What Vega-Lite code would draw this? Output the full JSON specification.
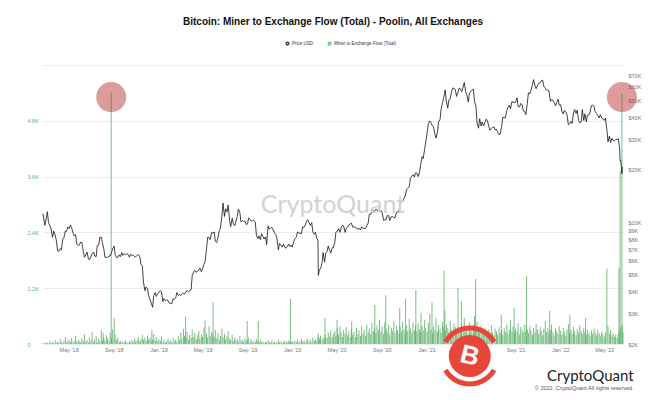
{
"$schema":"https://vega.github.io/schema/vega-lite/v6.json",
"width":580,"height":279,
"autosize":"none",
"padding":{"left":43,"top":65,"right":45,"bottom":56},
"background":"white",
"config":{"view":{"stroke":null},"font":"Liberation Sans"},
"title":{"text":"Bitcoin: Miner to Exchange Flow (Total) - Poolin, All Exchanges","fontSize":10,"fontWeight":"bold","color":"#111111","font":"Liberation Sans","anchor":"middle","frame":"group","offset":14},
"datasets":{"m":[
{"d":"2018-02-20","p":11200,"f":20},{"d":"2018-02-25","p":9600,"f":15},{"d":"2018-02-28","p":10350,"f":40},
{"d":"2018-03-04","p":11500,"f":25},{"d":"2018-03-07","p":9950,"f":10},{"d":"2018-03-11","p":9550,"f":60},{"d":"2018-03-14","p":9150,"f":20},{"d":"2018-03-18","p":8200,"f":35},{"d":"2018-03-21","p":8900,"f":15},{"d":"2018-03-25","p":8450,"f":80},{"d":"2018-03-28","p":7950,"f":30},
{"d":"2018-04-01","p":6850,"f":45},{"d":"2018-04-04","p":6800,"f":20},{"d":"2018-04-08","p":7050,"f":110},{"d":"2018-04-11","p":6950,"f":40},{"d":"2018-04-15","p":8000,"f":25},{"d":"2018-04-18","p":8150,"f":70},{"d":"2018-04-22","p":8900,"f":150},{"d":"2018-04-25","p":8850,"f":30},{"d":"2018-04-29","p":9400,"f":60},
{"d":"2018-05-02","p":9200,"f":95},{"d":"2018-05-06","p":9650,"f":40},{"d":"2018-05-09","p":9300,"f":130},{"d":"2018-05-13","p":8700,"f":35},{"d":"2018-05-16","p":8350,"f":70},{"d":"2018-05-20","p":8500,"f":180},{"d":"2018-05-23","p":7500,"f":45},{"d":"2018-05-27","p":7350,"f":90},{"d":"2018-05-30","p":7400,"f":55},
{"d":"2018-06-03","p":7700,"f":40},{"d":"2018-06-06","p":7650,"f":120},{"d":"2018-06-10","p":6800,"f":60},{"d":"2018-06-13","p":6300,"f":210},{"d":"2018-06-17","p":6500,"f":50},{"d":"2018-06-20","p":6750,"f":85},{"d":"2018-06-24","p":6150,"f":30},{"d":"2018-06-27","p":6100,"f":140},
{"d":"2018-07-01","p":6350,"f":70},{"d":"2018-07-04","p":6600,"f":260},{"d":"2018-07-08","p":6750,"f":45},{"d":"2018-07-11","p":6400,"f":95},{"d":"2018-07-15","p":6350,"f":170},{"d":"2018-07-18","p":7350,"f":40},{"d":"2018-07-22","p":7400,"f":110},{"d":"2018-07-25","p":8200,"f":60},{"d":"2018-07-29","p":8200,"f":300},
{"d":"2018-08-01","p":7600,"f":80},{"d":"2018-08-03","f":240},{"d":"2018-08-05","p":7000,"f":150},{"d":"2018-08-08","p":6300,"f":65},{"d":"2018-08-12","p":6300,"f":190},{"d":"2018-08-15","p":6250,"f":120},{"d":"2018-08-19","p":6400,"f":70},{"d":"2018-08-22","p":6400,"f":240},{"d":"2018-08-25","f":5420},{"d":"2018-08-26","p":6700,"f":130},{"d":"2018-08-29","p":7050,"f":320},
{"d":"2018-09-02","p":7300,"f":560},{"d":"2018-09-05","p":6500,"f":210},{"d":"2018-09-09","p":6250,"f":90},{"d":"2018-09-12","p":6300,"f":140},{"d":"2018-09-16","p":6500,"f":45},{"d":"2018-09-19","p":6350,"f":70},{"d":"2018-09-23","p":6700,"f":30},{"d":"2018-09-26","p":6450,"f":55},{"d":"2018-09-30","p":6600,"f":25},
{"d":"2018-10-03","p":6500,"f":80},{"d":"2018-10-07","p":6600,"f":40},{"d":"2018-10-10","p":6550,"f":20},{"d":"2018-10-14","p":6300,"f":60},{"d":"2018-10-17","p":6550,"f":35},{"d":"2018-10-21","p":6450,"f":95},{"d":"2018-10-24","p":6450,"f":40},{"d":"2018-10-28","p":6350,"f":120},{"d":"2018-10-31","p":6350,"f":55},
{"d":"2018-11-04","p":6450,"f":80},{"d":"2018-11-07","p":6550,"f":150},{"d":"2018-11-11","p":6350,"f":60},{"d":"2018-11-14","p":5750,"f":110},{"d":"2018-11-18","p":5600,"f":200},{"d":"2018-11-21","p":4550,"f":90},{"d":"2018-11-25","p":4050,"f":140},{"d":"2018-11-28","p":4250,"f":70},
{"d":"2018-12-02","p":4150,"f":180},{"d":"2018-12-05","p":3800,"f":100},{"d":"2018-12-09","p":3600,"f":130},{"d":"2018-12-12","p":3450,"f":60},{"d":"2018-12-14","f":300},{"d":"2018-12-16","p":3250,"f":90},{"d":"2018-12-19","p":3800,"f":220},{"d":"2018-12-23","p":3950,"f":80},{"d":"2018-12-26","p":3750,"f":150},{"d":"2018-12-30","p":3900,"f":60},
{"d":"2019-01-02","p":3950,"f":110},{"d":"2019-01-06","p":4050,"f":70},{"d":"2019-01-09","p":4000,"f":160},{"d":"2019-01-13","p":3500,"f":40},{"d":"2019-01-16","p":3650,"f":90},{"d":"2019-01-20","p":3550,"f":30},{"d":"2019-01-23","p":3580,"f":60},{"d":"2019-01-27","p":3550,"f":120},{"d":"2019-01-30","p":3450,"f":50},
{"d":"2019-02-03","p":3420,"f":80},{"d":"2019-02-06","p":3400,"f":35},{"d":"2019-02-10","p":3650,"f":140},{"d":"2019-02-13","p":3600,"f":60},{"d":"2019-02-17","p":3680,"f":100},{"d":"2019-02-20","p":3950,"f":45},{"d":"2019-02-24","p":3800,"f":170},{"d":"2019-02-27","p":3850,"f":90},
{"d":"2019-03-03","p":3800,"f":250},{"d":"2019-03-06","p":3870,"f":120},{"d":"2019-03-10","p":3920,"f":330},{"d":"2019-03-13","p":3870,"f":180},{"d":"2019-03-16","f":590},{"d":"2019-03-17","p":4000,"f":140},{"d":"2019-03-20","p":4050,"f":260},{"d":"2019-03-24","p":3990,"f":90},{"d":"2019-03-27","p":4050,"f":200},{"d":"2019-03-31","p":4100,"f":130},
{"d":"2019-04-03","p":4950,"f":310},{"d":"2019-04-07","p":5200,"f":150},{"d":"2019-04-10","p":5300,"f":240},{"d":"2019-04-14","p":5150,"f":100},{"d":"2019-04-17","p":5250,"f":190},{"d":"2019-04-21","p":5300,"f":280},{"d":"2019-04-24","p":5450,"f":120},{"d":"2019-04-28","p":5200,"f":210},
{"d":"2019-05-01","p":5400,"f":160},{"d":"2019-05-05","p":5750,"f":350},{"d":"2019-05-08","p":5950,"f":500},{"d":"2019-05-12","p":7000,"f":230},{"d":"2019-05-15","p":8200,"f":140},{"d":"2019-05-19","p":8150,"f":380},{"d":"2019-05-22","p":7950,"f":170},{"d":"2019-05-26","p":8750,"f":260},{"d":"2019-05-29","p":8650,"f":200},{"d":"2019-05-30","f":900},
{"d":"2019-06-02","p":8800,"f":150},{"d":"2019-06-05","p":7800,"f":300},{"d":"2019-06-09","p":7650,"f":120},{"d":"2019-06-12","p":8150,"f":240},{"d":"2019-06-16","p":8950,"f":90},{"d":"2019-06-19","p":9250,"f":180},{"d":"2019-06-23","p":10850,"f":330},{"d":"2019-06-26","p":12900,"f":140},{"d":"2019-06-30","p":10800,"f":220},
{"d":"2019-07-03","p":11950,"f":100},{"d":"2019-07-07","p":11450,"f":160},{"d":"2019-07-10","p":12550,"f":280},{"d":"2019-07-14","p":10250,"f":120},{"d":"2019-07-17","p":9450,"f":90},{"d":"2019-07-21","p":10550,"f":200},{"d":"2019-07-24","p":9850,"f":60},{"d":"2019-07-28","p":9550,"f":140},{"d":"2019-07-31","p":10100,"f":80},
{"d":"2019-08-04","p":10800,"f":110},{"d":"2019-08-07","p":11900,"f":50},{"d":"2019-08-11","p":11350,"f":170},{"d":"2019-08-14","p":10050,"f":70},{"d":"2019-08-18","p":10250,"f":90},{"d":"2019-08-21","p":10100,"f":40},{"d":"2019-08-25","p":10150,"f":120},{"d":"2019-08-28","p":9700,"f":60},{"d":"2019-08-31","f":495},
{"d":"2019-09-01","p":9800,"f":80},{"d":"2019-09-04","p":10600,"f":140},{"d":"2019-09-08","p":10350,"f":50},{"d":"2019-09-11","p":10150,"f":100},{"d":"2019-09-15","p":10300,"f":30},{"d":"2019-09-18","p":10200,"f":70},{"d":"2019-09-22","p":10050,"f":40},{"d":"2019-09-25","p":8450,"f":110},{"d":"2019-09-29","p":8050,"f":60},{"d":"2019-09-30","f":495},
{"d":"2019-10-02","p":8350,"f":45},{"d":"2019-10-06","p":7950,"f":90},{"d":"2019-10-09","p":8600,"f":30},{"d":"2019-10-13","p":8300,"f":60},{"d":"2019-10-16","p":8000,"f":20},{"d":"2019-10-20","p":8250,"f":50},{"d":"2019-10-23","p":7450,"f":35},{"d":"2019-10-27","p":9550,"f":80},{"d":"2019-10-30","p":9150,"f":40},
{"d":"2019-11-03","p":9250,"f":25},{"d":"2019-11-06","p":9350,"f":70},{"d":"2019-11-10","p":9050,"f":30},{"d":"2019-11-13","p":8750,"f":55},{"d":"2019-11-17","p":8500,"f":20},{"d":"2019-11-20","p":8100,"f":45},{"d":"2019-11-24","p":6950,"f":90},{"d":"2019-11-27","p":7550,"f":35},
{"d":"2019-12-01","p":7400,"f":60},{"d":"2019-12-04","p":7200,"f":25},{"d":"2019-12-08","p":7500,"f":40},{"d":"2019-12-11","p":7200,"f":70},{"d":"2019-12-15","p":7100,"f":30},{"d":"2019-12-18","p":7250,"f":55},{"d":"2019-12-22","p":7500,"f":80},{"d":"2019-12-25","p":7250,"f":40},{"d":"2019-12-27","f":970},{"d":"2019-12-29","p":7400,"f":60},
{"d":"2020-01-01","p":7200,"f":50},{"d":"2020-01-05","p":7750,"f":30},{"d":"2020-01-08","p":8050,"f":70},{"d":"2020-01-12","p":8200,"f":40},{"d":"2020-01-15","p":8800,"f":90},{"d":"2020-01-19","p":8700,"f":35},{"d":"2020-01-22","p":8650,"f":60},{"d":"2020-01-26","p":8600,"f":110},{"d":"2020-01-29","p":9400,"f":45},
{"d":"2020-02-02","p":9350,"f":80},{"d":"2020-02-05","p":9600,"f":30},{"d":"2020-02-09","p":10150,"f":65},{"d":"2020-02-12","p":10350,"f":120},{"d":"2020-02-16","p":9900,"f":50},{"d":"2020-02-19","p":9600,"f":90},{"d":"2020-02-23","p":9950,"f":40},{"d":"2020-02-26","p":8800,"f":140},
{"d":"2020-03-01","p":8550,"f":70},{"d":"2020-03-04","p":8750,"f":100},{"d":"2020-03-08","p":8050,"f":60},{"d":"2020-03-11","p":7900,"f":160},{"d":"2020-03-12","p":4950,"f":220},{"d":"2020-03-15","p":5350,"f":120},{"d":"2020-03-18","p":5400,"f":180},{"d":"2020-03-22","p":5850,"f":90},{"d":"2020-03-25","p":6700,"f":150},{"d":"2020-03-29","p":5900,"f":110},{"d":"2020-03-30","f":560},
{"d":"2020-04-01","p":6650,"f":200},{"d":"2020-04-05","p":6800,"f":130},{"d":"2020-04-08","p":7300,"f":250},{"d":"2020-04-12","p":6900,"f":160},{"d":"2020-04-15","p":6650,"f":300},{"d":"2020-04-19","p":7150,"f":140},{"d":"2020-04-22","p":7150,"f":220},{"d":"2020-04-26","p":7700,"f":280},{"d":"2020-04-29","p":8800,"f":180},
{"d":"2020-05-02","f":520},{"d":"2020-05-03","p":8900,"f":340},{"d":"2020-05-06","p":9200,"f":200},{"d":"2020-05-10","p":8750,"f":380},{"d":"2020-05-13","p":9300,"f":260},{"d":"2020-05-17","p":9650,"f":150},{"d":"2020-05-20","p":9500,"f":300},{"d":"2020-05-24","p":8750,"f":220},{"d":"2020-05-27","p":9200,"f":360},{"d":"2020-05-31","p":9450,"f":190},
{"d":"2020-06-03","p":9650,"f":270},{"d":"2020-06-07","p":9750,"f":140},{"d":"2020-06-10","p":9900,"f":320},{"d":"2020-06-11","f":480},{"d":"2020-06-14","p":9350,"f":200},{"d":"2020-06-17","p":9450,"f":260},{"d":"2020-06-21","p":9300,"f":150},{"d":"2020-06-24","p":9300,"f":340},{"d":"2020-06-28","p":9100,"f":210},
{"d":"2020-07-01","p":9250,"f":290},{"d":"2020-07-05","p":9050,"f":170},{"d":"2020-07-08","p":9400,"f":380},{"d":"2020-07-12","p":9250,"f":230},{"d":"2020-07-15","p":9200,"f":300},{"d":"2020-07-19","p":9200,"f":180},{"d":"2020-07-22","p":9550,"f":420},{"d":"2020-07-26","p":9900,"f":250},{"d":"2020-07-29","p":11100,"f":330},
{"d":"2020-08-02","p":11100,"f":210},{"d":"2020-08-05","p":11750,"f":450},{"d":"2020-08-09","p":11700,"f":280},{"d":"2020-08-12","p":11550,"f":360},{"d":"2020-08-13","f":840},{"d":"2020-08-16","p":11900,"f":240},{"d":"2020-08-19","p":11750,"f":400},{"d":"2020-08-23","p":11650,"f":300},{"d":"2020-08-26","p":11450,"f":520},{"d":"2020-08-30","p":11700,"f":260},
{"d":"2020-09-02","p":11400,"f":380},{"d":"2020-09-06","p":10250,"f":220},{"d":"2020-09-09","p":10350,"f":460},{"d":"2020-09-12","f":1050},{"d":"2020-09-13","p":10350,"f":310},{"d":"2020-09-16","p":10950,"f":250},{"d":"2020-09-20","p":10900,"f":420},{"d":"2020-09-23","p":10250,"f":200},{"d":"2020-09-27","p":10750,"f":350},{"d":"2020-09-30","p":10800,"f":280},
{"d":"2020-10-04","p":10650,"f":500},{"d":"2020-10-07","p":10600,"f":240},{"d":"2020-10-11","p":11400,"f":390},{"d":"2020-10-14","p":11450,"f":300},{"d":"2020-10-18","p":11500,"f":220},{"d":"2020-10-20","f":770},{"d":"2020-10-21","p":12850,"f":360},{"d":"2020-10-25","p":13050,"f":270},{"d":"2020-10-28","p":13300,"f":480},
{"d":"2020-11-01","p":13750,"f":310},{"d":"2020-11-04","p":14150,"f":230},{"d":"2020-11-05","f":970},{"d":"2020-11-08","p":15500,"f":400},{"d":"2020-11-11","p":15700,"f":280},{"d":"2020-11-15","p":16000,"f":540},{"d":"2020-11-18","p":17800,"f":330},{"d":"2020-11-22","p":18400,"f":250},{"d":"2020-11-25","p":18750,"f":460},{"d":"2020-11-29","p":18200,"f":300},
{"d":"2020-12-02","p":19200,"f":380},{"d":"2020-12-03","f":1160},{"d":"2020-12-06","p":19150,"f":270},{"d":"2020-12-09","p":18300,"f":440},{"d":"2020-12-13","p":19250,"f":320},{"d":"2020-12-16","p":21300,"f":260},{"d":"2020-12-17","f":670},{"d":"2020-12-20","p":23800,"f":390},{"d":"2020-12-23","p":23250,"f":290},{"d":"2020-12-27","p":26300,"f":520},{"d":"2020-12-30","p":28900,"f":340},
{"d":"2021-01-03","p":33000,"f":260},{"d":"2021-01-06","p":36800,"f":450},{"d":"2021-01-10","p":38200,"f":645},{"d":"2021-01-13","p":37400,"f":310},{"d":"2021-01-16","f":890},{"d":"2021-01-17","p":35800,"f":240},{"d":"2021-01-20","p":35500,"f":380},{"d":"2021-01-24","p":32100,"f":300},{"d":"2021-01-27","p":30400,"f":560},{"d":"2021-01-31","p":33100,"f":270},
{"d":"2021-02-03","p":37600,"f":410},{"d":"2021-02-07","p":39000,"f":330},{"d":"2021-02-10","p":44800,"f":250},{"d":"2021-02-14","p":48700,"f":480},{"d":"2021-02-17","p":52100,"f":360},{"d":"2021-02-18","f":1575},{"d":"2021-02-20","f":715},{"d":"2021-02-21","p":57500,"f":290},{"d":"2021-02-24","p":49700,"f":420},{"d":"2021-02-28","p":45200,"f":340},
{"d":"2021-03-03","p":50500,"f":260},{"d":"2021-03-07","p":51200,"f":500},{"d":"2021-03-10","p":56000,"f":310},{"d":"2021-03-14","p":59000,"f":230},{"d":"2021-03-17","p":58900,"f":440},{"d":"2021-03-21","p":57500,"f":360},{"d":"2021-03-24","p":52800,"f":280},{"d":"2021-03-28","p":55800,"f":1200},{"d":"2021-03-31","p":58900,"f":330},
{"d":"2021-04-04","p":58200,"f":250},{"d":"2021-04-06","f":930},{"d":"2021-04-07","p":56100,"f":420},{"d":"2021-04-11","p":59800,"f":300},{"d":"2021-04-14","p":63500,"f":560},{"d":"2021-04-18","p":56200,"f":270},{"d":"2021-04-21","p":53800,"f":380},{"d":"2021-04-25","p":49000,"f":220},{"d":"2021-04-28","p":54900,"f":460},
{"d":"2021-05-02","p":56600,"f":320},{"d":"2021-05-05","p":57200,"f":250},{"d":"2021-05-09","p":58200,"f":410},{"d":"2021-05-12","p":49200,"f":600},{"d":"2021-05-15","f":1400},{"d":"2021-05-16","p":46400,"f":350},{"d":"2021-05-19","p":37000,"f":480},{"d":"2021-05-23","p":34700,"f":300},{"d":"2021-05-26","p":39300,"f":240},{"d":"2021-05-30","p":35700,"f":390},
{"d":"2021-06-02","p":37600,"f":280},{"d":"2021-06-06","p":35800,"f":200},{"d":"2021-06-09","p":37300,"f":340},{"d":"2021-06-13","p":39100,"f":260},{"d":"2021-06-16","p":38300,"f":180},{"d":"2021-06-20","p":35600,"f":310},{"d":"2021-06-23","p":33700,"f":220},{"d":"2021-06-27","p":34600,"f":400},{"d":"2021-06-30","p":35000,"f":250},
{"d":"2021-07-04","p":35300,"f":190},{"d":"2021-07-07","p":33900,"f":330},{"d":"2021-07-11","p":34200,"f":270},{"d":"2021-07-14","p":32800,"f":210},{"d":"2021-07-18","p":31800,"f":360},{"d":"2021-07-21","p":32100,"f":240},{"d":"2021-07-24","f":620},{"d":"2021-07-25","p":35400,"f":300},{"d":"2021-07-28","p":40000,"f":200},
{"d":"2021-08-01","p":39900,"f":350},{"d":"2021-08-04","p":39700,"f":260},{"d":"2021-08-08","p":43800,"f":420},{"d":"2021-08-11","p":45600,"f":230},{"d":"2021-08-15","p":47000,"f":310},{"d":"2021-08-18","p":44800,"f":520},{"d":"2021-08-22","p":49300,"f":270},{"d":"2021-08-25","p":48900,"f":380},{"d":"2021-08-28","f":770},{"d":"2021-08-29","p":48800,"f":240},
{"d":"2021-09-01","p":48800,"f":330},{"d":"2021-09-05","p":51800,"f":280},{"d":"2021-09-08","p":46100,"f":450},{"d":"2021-09-12","p":46100,"f":210},{"d":"2021-09-15","p":48100,"f":360},{"d":"2021-09-19","p":47300,"f":300},{"d":"2021-09-22","p":43600,"f":240},{"d":"2021-09-26","p":43200,"f":410},{"d":"2021-09-29","p":41500,"f":270},
{"d":"2021-10-01","f":1460},{"d":"2021-10-03","p":48200,"f":320},{"d":"2021-10-06","p":55400,"f":230},{"d":"2021-10-10","p":54700,"f":380},{"d":"2021-10-13","p":57400,"f":290},{"d":"2021-10-17","p":61500,"f":200},{"d":"2021-10-20","p":66000,"f":340},{"d":"2021-10-24","p":61000,"f":260},{"d":"2021-10-27","p":58500,"f":430},{"d":"2021-10-31","p":61300,"f":310},
{"d":"2021-11-03","p":62900,"f":220},{"d":"2021-11-07","p":63300,"f":370},{"d":"2021-11-10","p":64900,"f":280},{"d":"2021-11-14","p":65500,"f":190},{"d":"2021-11-17","p":60400,"f":330},{"d":"2021-11-21","p":59000,"f":500},{"d":"2021-11-24","p":57500,"f":260},{"d":"2021-11-28","p":57200,"f":350},
{"d":"2021-12-01","p":57000,"f":230},{"d":"2021-12-03","f":710},{"d":"2021-12-05","p":49400,"f":300},{"d":"2021-12-08","p":50600,"f":420},{"d":"2021-12-12","p":50100,"f":250},{"d":"2021-12-15","p":48900,"f":190},{"d":"2021-12-19","p":46700,"f":340},{"d":"2021-12-22","p":48600,"f":270},{"d":"2021-12-26","p":50800,"f":210},{"d":"2021-12-29","p":47100,"f":380},
{"d":"2022-01-02","p":47300,"f":290},{"d":"2022-01-05","p":43500,"f":200},{"d":"2022-01-09","p":41800,"f":350},{"d":"2022-01-12","p":43900,"f":260},{"d":"2022-01-16","p":43100,"f":180},{"d":"2022-01-19","p":41700,"f":310},{"d":"2022-01-23","p":36300,"f":430},{"d":"2022-01-26","p":36800,"f":240},{"d":"2022-01-27","f":620},{"d":"2022-01-30","p":37900,"f":300},
{"d":"2022-02-02","p":36900,"f":210},{"d":"2022-02-06","p":42400,"f":360},{"d":"2022-02-09","p":44400,"f":270},{"d":"2022-02-13","p":42200,"f":190},{"d":"2022-02-16","p":44000,"f":320},{"d":"2022-02-20","p":38400,"f":250},{"d":"2022-02-23","p":37300,"f":400},{"d":"2022-02-27","p":37700,"f":280},
{"d":"2022-03-02","p":44400,"f":220},{"d":"2022-03-06","p":38400,"f":340},{"d":"2022-03-09","p":41900,"f":260},{"d":"2022-03-11","f":560},{"d":"2022-03-13","p":37800,"f":200},{"d":"2022-03-16","p":41100,"f":310},{"d":"2022-03-20","p":41300,"f":240},{"d":"2022-03-23","p":42900,"f":180},{"d":"2022-03-27","p":46800,"f":290},{"d":"2022-03-30","p":47100,"f":220},
{"d":"2022-04-03","p":46400,"f":330},{"d":"2022-04-06","p":43200,"f":250},{"d":"2022-04-10","p":42200,"f":190},{"d":"2022-04-13","p":41100,"f":300},{"d":"2022-04-17","p":39700,"f":230},{"d":"2022-04-20","p":41500,"f":170},{"d":"2022-04-24","p":39500,"f":270},{"d":"2022-04-27","p":39200,"f":210},
{"d":"2022-05-01","p":38500,"f":160},{"d":"2022-05-04","p":39700,"f":250},{"d":"2022-05-08","p":34100,"f":1620},{"d":"2022-05-11","p":29000,"f":380},{"d":"2022-05-15","p":31300,"f":220},{"d":"2022-05-18","p":28700,"f":300},{"d":"2022-05-22","p":30300,"f":180},{"d":"2022-05-25","p":29500,"f":240},{"d":"2022-05-29","p":29400,"f":150},
{"d":"2022-06-01","p":29800,"f":200},{"d":"2022-06-05","p":29900,"f":130},{"d":"2022-06-08","p":30200,"f":220},{"d":"2022-06-10","f":1630},{"d":"2022-06-12","p":26600,"f":280},{"d":"2022-06-13","p":22500,"f":3720},{"d":"2022-06-15","p":22600,"f":350},{"d":"2022-06-18","p":19000,"f":5380},{"d":"2022-06-19","p":20600,"f":400},{"d":"2022-06-21","p":20700,"f":250}
]},
"layer":[
{"data":{"name":"m"},
"mark":{"type":"rule","strokeWidth":1,"opacity":0.8},
"encoding":{
"x":{"field":"d","type":"temporal","scale":{"domain":[{"year":2018,"month":2,"date":20},{"year":2022,"month":6,"date":21}]},
"axis":{"title":null,"values":[{"year":2018,"month":5,"date":1},{"year":2018,"month":9,"date":1},{"year":2019,"month":1,"date":1},{"year":2019,"month":5,"date":1},{"year":2019,"month":9,"date":1},{"year":2020,"month":1,"date":1},{"year":2020,"month":5,"date":1},{"year":2020,"month":9,"date":1},{"year":2021,"month":1,"date":1},{"year":2021,"month":5,"date":1},{"year":2021,"month":9,"date":1},{"year":2022,"month":1,"date":1},{"year":2022,"month":5,"date":1}],
"format":"%b '%y","labelFontSize":5.5,"labelColor":"#777777","ticks":false,"tickSize":0,"domain":false,"grid":false,"labelPadding":3,"labelOverlap":false,"labelFlush":false}},
"y":{"field":"f","type":"quantitative","scale":{"domain":[0,6000],"nice":false},
"axis":{"orient":"left","title":null,"values":[0,1200,2400,3600,4800,6000],"labelExpr":"datum.value == 0 ? '0' : (datum.value >= 6000 ? '' : format(datum.value/1000, '.1f') + 'K')","labelFontSize":5.5,"labelColor":"#5cb85c","labelAlign":"left","labelPadding":16,"ticks":false,"tickSize":0,"domain":false,"grid":true,"gridColor":"#ebebeb","gridWidth":1}},
"y2":{"datum":0},
"color":{"datum":"Miner to Exchange Flow (Total)","type":"nominal","scale":{"domain":["Price USD","Miner to Exchange Flow (Total)"],"range":["#111111","#56ad63"]},
"legend":{"orient":"none","legendX":242,"legendY":-24,"direction":"horizontal","symbolType":"circle","symbolSize":7,"symbolStrokeWidth":1.5,"labelFontSize":4.5,"labelColor":"#333333","title":null,"columnPadding":11,"padding":0,"labelOffset":2}}
}},
{"data":{"name":"m"},
"transform":[{"filter":{"field":"p","valid":true}}],
"mark":{"type":"line","strokeWidth":0.8},
"encoding":{
"x":{"field":"d","type":"temporal","scale":{"domain":[{"year":2018,"month":2,"date":20},{"year":2022,"month":6,"date":21}]}},
"y":{"field":"p","type":"quantitative","scale":{"type":"log","domain":[2000,80000],"nice":false},
"axis":{"orient":"right","title":null,"values":[2000,3000,4000,5000,6000,7000,8000,9000,10000,20000,30000,40000,50000,60000,70000],"labelExpr":"'$' + format(datum.value/1000, 'd') + 'K'","labelFontSize":5.5,"labelColor":"#777777","labelPadding":5,"ticks":false,"tickSize":0,"domain":false,"grid":false}},
"color":{"datum":"Price USD","type":"nominal"}
}},
{"data":{"values":[{"d":"2018-08-25","v":5310},{"d":"2022-06-18","v":5310}]},
"mark":{"type":"point","shape":"circle","filled":true,"size":900,"color":"#b73a3a","opacity":0.5},
"encoding":{
"x":{"field":"d","type":"temporal","scale":{"domain":[{"year":2018,"month":2,"date":20},{"year":2022,"month":6,"date":21}]}},
"y":{"field":"v","type":"quantitative","scale":{"domain":[0,6000],"nice":false},"axis":null}
}},
{"data":{"values":[{}]},
"mark":{"type":"text","text":"CryptoQuant","fontSize":25,"font":"Lato","color":"#d2d2d2","align":"center","baseline":"middle"},
"encoding":{
"x":{"datum":{"year":2020,"month":4,"date":21},"type":"temporal","scale":{"domain":[{"year":2018,"month":2,"date":20},{"year":2022,"month":6,"date":21}]}},
"y":{"datum":2990,"type":"quantitative","scale":{"domain":[0,6000],"nice":false},"axis":null}
}},
{"data":{"values":[{}]},
"mark":{"type":"text","text":"CryptoQuant","fontSize":15,"font":"Lato","color":"#222222","align":"right","baseline":"middle"},
"encoding":{
"x":{"datum":{"year":2022,"month":7,"date":20},"type":"temporal","scale":{"domain":[{"year":2018,"month":2,"date":20},{"year":2022,"month":6,"date":21}]}},
"y":{"datum":-688,"type":"quantitative","scale":{"domain":[0,6000],"nice":false},"axis":null}
}},
{"data":{"values":[{}]},
"mark":{"type":"text","text":"© 2022. CryptoQuant All rights reserved.","fontSize":5.5,"color":"#555555","align":"right","baseline":"middle"},
"encoding":{
"x":{"datum":{"year":2022,"month":7,"date":20},"type":"temporal","scale":{"domain":[{"year":2018,"month":2,"date":20},{"year":2022,"month":6,"date":21}]}},
"y":{"datum":-946,"type":"quantitative","scale":{"domain":[0,6000],"nice":false},"axis":null}
}},
{"data":{"values":[{}]},
"mark":{"type":"point","shape":"circle","filled":false,"size":3136,"stroke":"#e8463b","strokeWidth":5,"strokeDash":[58.6,29.3],"strokeDashOffset":73.3,"opacity":1},
"encoding":{
"x":{"datum":{"year":2021,"month":4,"date":29},"type":"temporal","scale":{"domain":[{"year":2018,"month":2,"date":20},{"year":2022,"month":6,"date":21}]}},
"y":{"datum":-258,"type":"quantitative","scale":{"domain":[0,6000],"nice":false},"axis":null}
}},
{"data":{"values":[{}]},
"mark":{"type":"point","shape":"circle","filled":true,"size":1764,"color":"#e8463b","opacity":1},
"encoding":{
"x":{"datum":{"year":2021,"month":4,"date":29},"type":"temporal","scale":{"domain":[{"year":2018,"month":2,"date":20},{"year":2022,"month":6,"date":21}]}},
"y":{"datum":-258,"type":"quantitative","scale":{"domain":[0,6000],"nice":false},"axis":null}
}},
{"data":{"values":[{}]},
"mark":{"type":"text","text":"B","fontSize":26,"fontWeight":"bold","font":"Liberation Sans","color":"#ffffff","align":"center","baseline":"middle","angle":14},
"encoding":{
"x":{"datum":{"year":2021,"month":4,"date":29},"type":"temporal","scale":{"domain":[{"year":2018,"month":2,"date":20},{"year":2022,"month":6,"date":21}]}},
"y":{"datum":-258,"type":"quantitative","scale":{"domain":[0,6000],"nice":false},"axis":null}
}}
],
"resolve":{"scale":{"y":"independent"}}
}
